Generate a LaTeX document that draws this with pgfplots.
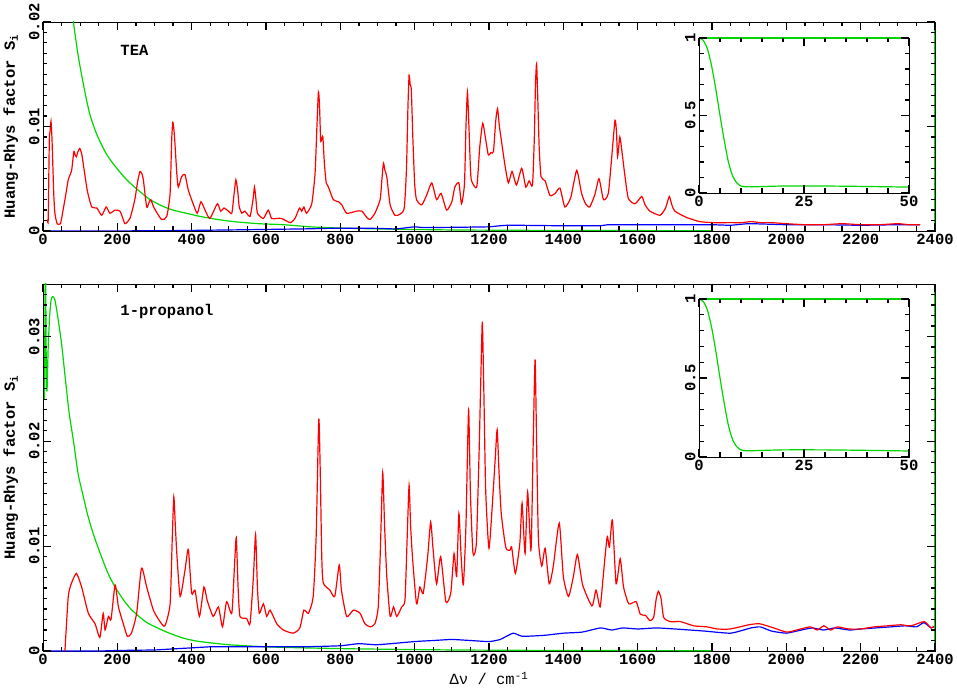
\documentclass[border=0pt]{standalone}
\usepackage{pgfplots}
\pgfplotsset{compat=1.18}
\usepackage{fontspec}
\setmainfont{Liberation Mono}
\definecolor{gr}{RGB}{0,215,0}
\definecolor{rd}{RGB}{255,0,0}
\definecolor{bl}{RGB}{0,0,255}
\newcommand{\tf}{\fontsize{15.5}{17}\selectfont\bfseries}
\newcommand{\xtk}[4]{\pgfplotsinvokeforeach{#1}{\draw[black,line width=1.2pt] (axis cs:##1,#2) -- ++(0pt,#4); \draw[black,line width=1.2pt] (axis cs:##1,#3) -- ++(0pt,-#4);}}
\newcommand{\ytk}[4]{\pgfplotsinvokeforeach{#1}{\draw[black,line width=1.2pt] (axis cs:#2,##1) -- ++(#4,0pt); \draw[black,line width=1.2pt] (axis cs:#3,##1) -- ++(-#4,0pt);}}
\pgfplotsset{
  redl/.style={rd, line width=1.2pt, smooth, tension=0.35},
  bluel/.style={bl, line width=1.2pt, smooth, tension=0.3},
  greenl/.style={gr, line width=1.2pt, smooth, tension=0.4}
}
\begin{document}
\begin{tikzpicture}
\path[use as bounding box] (0pt,0pt) rectangle (957pt,698pt);
% ---------------- TEA ----------------
\begin{axis}[at={(43pt,467pt)}, anchor=south west, width=892pt, height=209pt, scale only axis,
  tick align=inside, major tick length=8pt, minor tick length=4.5pt, tick style={black, line width=1.2pt},
  scaled ticks=false,
  xmin=0, xmax=2400, ymin=0, ymax=0.02,
  xtick={0,200,...,2400},
  xticklabels={0,200,400,600,800,1000,1200,1400,1600,1800,2000,2200,2400},
  ytick={0,0.01,0.02}, yticklabels={0,0.01,0.02},
  xticklabel style={font=\tf}, yticklabel style={font=\tf, rotate=90, anchor=south},
  ylabel={Huang-Rhys factor S\textsubscript{i}},
  ylabel style={font=\tf, at={(axis description cs:-0.036,0.5)}, anchor=center}]
\addplot[greenl] coordinates {(70,0.0245)(82,0.020)(95,0.0167)(110,0.0138)(125,0.0113)(144,0.0093)(170,0.0074)(194,0.0062)(220,0.0051)(243,0.0043)(270,0.0035)(288,0.0030)(320,0.0024)(350,0.0020)(385,0.0017)(422,0.0014)(470,0.0011)(512,0.0009)(580,0.0007)(647,0.0006)(720,0.0004)(781,0.0003)(900,0.0002)(1100,0.0001)(1400,0.00005)(1800,0.00003)};
\addplot[bluel] coordinates {(0,0)(300,0.00002)(500,0.0001)(600,0.00015)(700,0.0002)(800,0.00027)(900,0.00025)(950,0.0002)(1000,0.0004)(1020,0.00033)(1100,0.00035)(1200,0.0004)(1250,0.00055)(1400,0.0005)(1500,0.0005)(1520,0.0006)(1600,0.0006)(1700,0.0006)(1800,0.0006)(1850,0.00055)(1900,0.0007)(2000,0.0006)(2100,0.0006)(2200,0.00055)(2300,0.0006)(2360,0.0006)};
\addplot[redl] coordinates {(12,0.0011)(14,0.0011)(17,0.0087)(19,0.0095)(21.5,0.0105)(24,0.0090)(26,0.0068)(29,0.0035)(32,0.0017)(38,0.0007)(47,0.0007)(53,0.0018)(59,0.0030)(68,0.0049)(77,0.0058)(83,0.0076)(87,0.0072)(90,0.0071)(94,0.0076)(99,0.0079)(104,0.0074)(108,0.0065)(119,0.0039)(131,0.0023)(145,0.0022)(158,0.0015)(170,0.0023)(180,0.0017)(194,0.0020)(207,0.0019)(215,0.0012)(221,0.0007)(234,0.0012)(247,0.0030)(255,0.0048)(261,0.0057)(266,0.0055)(270,0.0049)(279,0.0023)(285,0.0027)(290,0.0030)(299,0.0022)(319,0.0011)(333,0.0014)(342,0.0036)(346,0.0085)(349,0.0104)(352,0.0098)(355,0.0084)(360,0.0055)(364,0.0042)(373,0.0052)(382,0.0054)(391,0.0039)(404,0.0026)(415,0.0017)(425,0.0028)(436,0.0020)(449,0.0012)(469,0.0026)(478,0.0019)(487,0.0022)(499,0.0019)(508,0.0017)(514,0.0035)(519,0.0049)(524,0.0038)(528,0.0023)(535,0.0017)(543,0.0019)(557,0.0014)(565,0.0030)(569,0.0042)(573,0.0030)(577,0.0017)(593,0.0012)(606,0.0020)(615,0.0012)(629,0.0012)(642,0.0012)(665,0.0008)(678,0.0012)(690,0.0022)(696,0.0019)(702,0.0023)(709,0.0017)(723,0.0026)(732,0.0055)(737,0.0100)(741,0.0133)(744,0.0120)(747,0.0087)(750,0.0088)(753,0.0090)(757,0.0065)(762,0.0046)(768,0.0042)(781,0.0030)(795,0.0028)(804,0.0025)(817,0.0017)(844,0.0019)(858,0.0019)(871,0.0013)(880,0.0011)(893,0.0017)(907,0.0030)(912,0.0050)(916,0.0065)(920,0.0058)(925,0.0052)(934,0.0025)(947,0.0015)(960,0.0016)(972,0.0022)(978,0.0060)(982,0.0120)(985,0.0149)(988,0.0140)(991,0.0135)(995,0.0090)(1000,0.0045)(1005,0.0030)(1019,0.0025)(1033,0.0035)(1046,0.0046)(1059,0.0030)(1071,0.0036)(1086,0.0020)(1100,0.0028)(1108,0.0042)(1119,0.0046)(1126,0.0026)(1134,0.0045)(1138,0.0100)(1142,0.0133)(1146,0.0100)(1150,0.0060)(1153,0.0048)(1167,0.0042)(1175,0.0080)(1183,0.0103)(1190,0.0090)(1198,0.0073)(1205,0.0075)(1212,0.0076)(1218,0.0105)(1223,0.0117)(1228,0.0100)(1234,0.0085)(1242,0.0065)(1252,0.0046)(1262,0.0057)(1274,0.0044)(1288,0.0060)(1299,0.0042)(1308,0.0048)(1317,0.0044)(1322,0.0090)(1325,0.0140)(1328,0.0160)(1331,0.0130)(1335,0.0080)(1340,0.0052)(1351,0.0048)(1364,0.0034)(1378,0.0036)(1391,0.0041)(1404,0.0023)(1420,0.0032)(1436,0.0058)(1449,0.0036)(1460,0.0026)(1471,0.0023)(1485,0.0035)(1496,0.0050)(1508,0.0030)(1521,0.0036)(1530,0.0070)(1539,0.0106)(1543,0.0095)(1546,0.0071)(1552,0.0090)(1558,0.0075)(1566,0.0052)(1575,0.0031)(1593,0.0026)(1611,0.0033)(1620,0.0025)(1633,0.0019)(1660,0.0015)(1675,0.0022)(1685,0.0033)(1692,0.0025)(1700,0.0019)(1731,0.0013)(1767,0.0009)(1803,0.0008)(1850,0.0008)(1880,0.0008)(1905,0.0009)(1930,0.0008)(1960,0.0008)(2000,0.0007)(2050,0.0006)(2100,0.0006)(2150,0.0007)(2200,0.0006)(2250,0.0006)(2300,0.0007)(2330,0.0006)(2360,0.0006)};
\node[anchor=west,font=\tf] at (axis cs:199,0.0173) {TEA};
\draw[gr,line width=1.1pt] (rel axis cs:1,0) -- (rel axis cs:1,1);
\xtk{0,50,...,2400}{0}{0.02}{4.5pt}
\xtk{0,200,...,2400}{0}{0.02}{8pt}
\ytk{0.001,0.002,0.003,0.004,0.005,0.006,0.007,0.008,0.009,0.011,0.012,0.013,0.014,0.015,0.016,0.017,0.018,0.019}{0}{2400}{4.5pt}
\ytk{0,0.01,0.02}{0}{2400}{8pt}
\end{axis}
\begin{axis}[at={(699pt,505pt)}, anchor=south west, width=210pt, height=155pt, scale only axis,
  tick align=inside, major tick length=8pt, minor tick length=4.5pt, tick style={black, line width=1.2pt},
  axis background/.style={fill=white},
  xmin=0, xmax=50, ymin=0, ymax=1,
  xtick={0,25,50}, ytick={0,0.5,1}, xticklabels={0,25,50}, yticklabels={0,0.5,1},
  xticklabel style={font=\tf}, yticklabel style={font=\tf, rotate=90, anchor=south}]
\addplot[greenl] coordinates {(0,1)(1,0.985)(2,0.93)(3,0.82)(4,0.67)(5,0.5)(6,0.34)(7,0.2)(8,0.11)(9,0.065)(10,0.045)(11,0.04)(13,0.04)(20,0.045)(30,0.045)(40,0.042)(50,0.038)};
\draw[gr,line width=1.1pt] (rel axis cs:0,1) -- (rel axis cs:1,1);
\xtk{5,10,15,20,30,35,40,45}{0}{1}{4.5pt}
\xtk{0,25,50}{0}{1}{8pt}
\ytk{0.1,0.2,0.3,0.4,0.6,0.7,0.8,0.9}{0}{50}{4.5pt}
\ytk{0,0.5,1}{0}{50}{8pt}
\end{axis}
% ---------------- 1-propanol ----------------
\begin{axis}[at={(43pt,47pt)}, anchor=south west, width=892pt, height=367pt, scale only axis,
  tick align=inside, major tick length=8pt, minor tick length=4.5pt, tick style={black, line width=1.2pt},
  scaled ticks=false,
  xmin=0, xmax=2400, ymin=0, ymax=0.035,
  xtick={0,200,...,2400},
  xticklabels={0,200,400,600,800,1000,1200,1400,1600,1800,2000,2200,2400},
  ytick={0,0.01,0.02,0.03}, yticklabels={0,0.01,0.02,0.03},
  xticklabel style={font=\tf}, yticklabel style={font=\tf, rotate=90, anchor=south},
  ylabel={Huang-Rhys factor S\textsubscript{i}},
  ylabel style={font=\tf, at={(axis description cs:-0.036,0.5)}, anchor=center},
  xlabel={Δν / cm\textsuperscript{-1}}, xlabel style={font=\fontsize{15.5}{17}\selectfont}]
\addplot[greenl] coordinates {(4,0.024)(6.5,0.038)(9,0.026)(11,0.025)(14,0.029)(18,0.032)(22,0.0335)(26,0.0338)(32,0.0335)(40,0.0318)(50,0.0293)(60,0.026)(70,0.0228)(82,0.0200)(95,0.0168)(108,0.0148)(120,0.0130)(135,0.0112)(153,0.0094)(175,0.0074)(194,0.0061)(220,0.0047)(242,0.0038)(280,0.0027)(333,0.0018)(380,0.0012)(422,0.0009)(500,0.0006)(600,0.0004)(700,0.0003)(850,0.0002)(1100,0.0001)(1400,0.00005)(1800,0.00003)};
\addplot[bluel] coordinates {(0,0)(150,0)(200,0.00005)(300,0.0001)(350,0.0002)(400,0.0003)(450,0.0004)(500,0.0004)(600,0.0004)(700,0.0004)(800,0.0005)(850,0.0007)(900,0.0006)(1000,0.0009)(1050,0.0010)(1100,0.0011)(1150,0.0010)(1200,0.0009)(1230,0.0011)(1265,0.0017)(1290,0.0014)(1350,0.0015)(1400,0.0017)(1450,0.0018)(1500,0.0022)(1530,0.0020)(1560,0.0022)(1600,0.0021)(1650,0.0022)(1700,0.0021)(1780,0.0019)(1850,0.0017)(1905,0.0022)(1930,0.0023)(1960,0.0019)(2000,0.0017)(2040,0.0020)(2070,0.0022)(2100,0.0020)(2130,0.0022)(2170,0.0020)(2200,0.0021)(2240,0.0022)(2280,0.0023)(2320,0.0024)(2350,0.0023)(2370,0.0027)(2390,0.0022)(2400,0.0024)};
\addplot[redl] coordinates {(59,0)(68,0.0052)(77,0.0065)(90,0.0074)(104,0.0061)(122,0.0036)(140,0.0026)(153,0.0013)(162,0.0036)(167,0.0020)(176,0.0033)(183,0.0030)(194,0.0063)(203,0.0042)(216,0.0026)(227,0.0014)(238,0.0017)(252,0.0036)(265,0.0079)(279,0.0061)(297,0.0039)(315,0.0028)(328,0.0024)(342,0.0045)(348,0.0110)(352,0.0147)(356,0.0120)(360,0.0093)(369,0.0052)(382,0.0077)(391,0.0097)(400,0.0055)(409,0.0058)(421,0.0033)(433,0.0061)(442,0.0048)(458,0.0033)(472,0.0042)(483,0.0023)(494,0.0047)(508,0.0036)(515,0.0080)(520,0.0108)(525,0.0060)(530,0.0033)(548,0.0031)(557,0.0026)(566,0.0070)(572,0.0111)(577,0.0060)(582,0.0036)(593,0.0045)(602,0.0033)(611,0.0039)(629,0.0026)(647,0.0020)(673,0.0017)(691,0.0022)(702,0.0039)(714,0.0036)(727,0.0052)(735,0.0110)(742,0.0221)(746,0.0170)(750,0.0090)(754,0.0065)(772,0.0058)(785,0.0052)(797,0.0082)(803,0.0058)(817,0.0033)(835,0.0039)(853,0.0036)(866,0.0026)(880,0.0023)(893,0.0026)(902,0.0042)(908,0.0100)(914,0.0170)(919,0.0120)(925,0.0071)(934,0.0033)(943,0.0042)(952,0.0033)(965,0.0042)(974,0.0049)(980,0.0110)(985,0.0158)(989,0.0120)(994,0.0090)(1005,0.0045)(1014,0.0061)(1023,0.0055)(1035,0.0090)(1043,0.0123)(1050,0.0095)(1059,0.0064)(1070,0.0090)(1084,0.0047)(1097,0.0055)(1106,0.0093)(1113,0.0071)(1119,0.0131)(1125,0.0090)(1131,0.0063)(1138,0.0120)(1145,0.0230)(1150,0.0150)(1157,0.0093)(1166,0.0103)(1173,0.0185)(1178,0.0260)(1182,0.0314)(1186,0.0250)(1191,0.0154)(1200,0.0098)(1211,0.0151)(1217,0.0185)(1222,0.0211)(1227,0.0170)(1233,0.0131)(1245,0.0099)(1256,0.0096)(1261,0.0099)(1271,0.0074)(1283,0.0103)(1289,0.0141)(1297,0.0093)(1304,0.0152)(1313,0.0096)(1319,0.0200)(1324,0.0278)(1328,0.0200)(1333,0.0106)(1342,0.0081)(1351,0.0098)(1362,0.0064)(1373,0.0081)(1389,0.0122)(1400,0.0071)(1414,0.0052)(1427,0.0071)(1438,0.0092)(1452,0.0063)(1477,0.0043)(1488,0.0058)(1499,0.0042)(1508,0.0074)(1518,0.0109)(1524,0.0099)(1532,0.0125)(1542,0.0064)(1553,0.0088)(1562,0.0061)(1576,0.0045)(1596,0.0047)(1607,0.0035)(1621,0.0034)(1633,0.0029)(1643,0.0032)(1650,0.0050)(1656,0.0057)(1663,0.0050)(1670,0.0032)(1688,0.0028)(1715,0.0028)(1751,0.0024)(1787,0.0023)(1814,0.0021)(1849,0.0021)(1899,0.0025)(1928,0.0026)(1966,0.0022)(2002,0.0018)(2038,0.0021)(2065,0.0023)(2083,0.0020)(2101,0.0024)(2119,0.0020)(2137,0.0023)(2168,0.0021)(2200,0.0021)(2236,0.0023)(2272,0.0024)(2308,0.0025)(2335,0.0024)(2371,0.0028)(2389,0.0022)(2400,0.0024)};
\node[anchor=west,font=\tf] at (axis cs:199,0.0324) {1-propanol};
\draw[gr,line width=1.1pt] (rel axis cs:1,0) -- (rel axis cs:1,1);
\xtk{0,50,...,2400}{0}{0.035}{4.5pt}
\xtk{0,200,...,2400}{0}{0.035}{8pt}
\ytk{0.001,0.002,0.003,0.004,0.005,0.006,0.007,0.008,0.009,0.011,0.012,0.013,0.014,0.015,0.016,0.017,0.018,0.019,0.021,0.022,0.023,0.024,0.025,0.026,0.027,0.028,0.029,0.031,0.032,0.033,0.034}{0}{2400}{4.5pt}
\ytk{0,0.01,0.02,0.03}{0}{2400}{8pt}
\end{axis}
\begin{axis}[at={(699pt,241pt)}, anchor=south west, width=210pt, height=158pt, scale only axis,
  tick align=inside, major tick length=8pt, minor tick length=4.5pt, tick style={black, line width=1.2pt},
  axis background/.style={fill=white},
  xmin=0, xmax=50, ymin=0, ymax=1,
  xtick={0,25,50}, ytick={0,0.5,1}, xticklabels={0,25,50}, yticklabels={0,0.5,1},
  xticklabel style={font=\tf}, yticklabel style={font=\tf, rotate=90, anchor=south}]
\addplot[greenl] coordinates {(0,1)(1,0.985)(2,0.93)(3,0.82)(4,0.67)(5,0.5)(6,0.34)(7,0.2)(8,0.11)(9,0.065)(10,0.045)(11,0.04)(13,0.04)(20,0.045)(30,0.045)(40,0.042)(50,0.038)};
\draw[gr,line width=1.1pt] (rel axis cs:0,1) -- (rel axis cs:1,1);
\xtk{5,10,15,20,30,35,40,45}{0}{1}{4.5pt}
\xtk{0,25,50}{0}{1}{8pt}
\ytk{0.1,0.2,0.3,0.4,0.6,0.7,0.8,0.9}{0}{50}{4.5pt}
\ytk{0,0.5,1}{0}{50}{8pt}
\end{axis}
\end{tikzpicture}
\end{document}
